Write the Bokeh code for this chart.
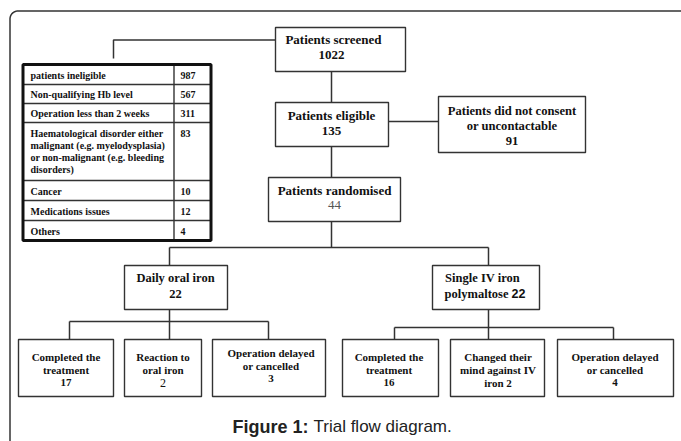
import numpy as np
from bokeh.plotting import figure
from bokeh.models import Range1d, ColumnDataSource
from bokeh.core.properties import value
from bokeh.embed import file_html
from bokeh.resources import INLINE

# ---------------- data ----------------
screened_n = 1022
eligible_n = 135
no_consent_n = 91
randomised_n = 44
oral_n = 22
iv_n = 22
oral_outcome_counts = [17, 2, 3]
iv_outcome_counts = [16, 2, 4]
ineligible_reasons = [
    "patients ineligible",
    "Non-qualifying Hb level",
    "Operation less than 2 weeks",
    "Haematological disorder either|malignant (e.g. myelodysplasia)|or non-malignant (e.g. bleeding|disorders)",
    "Cancer",
    "Medications issues",
    "Others",
]
ineligible_counts = [987, 567, 311, 83, 10, 12, 4]
caption_bold = "Figure 1:"
caption_text = "Trial flow diagram."

# ---------------- layout ----------------
SERIF = value("Liberation Serif")
SANS = value("Liberation Sans")
LINE = "#333333"
TXT = "#111111"

p = figure(width=681, height=441, x_range=Range1d(0, 681), y_range=Range1d(441, 0),
           output_backend="svg", toolbar_location=None, min_border=0,
           x_axis_location=None, y_axis_location=None)
p.xgrid.visible = False
p.ygrid.visible = False
p.outline_line_color = None
p.background_fill_color = "white"
p.border_fill_color = "white"

# outer frame with rounded top-left corner
t = np.linspace(0, np.pi / 2, 20)
fx = [9.5, 9.5] + list(17.5 - 8 * np.cos(t)) + [690]
fy = [450, 18.5] + list(18.5 - 8 * np.sin(t)) + [10.5]
p.line(fx, fy, line_color=LINE, line_width=1.5)

# connectors
seg_x = [
    [113, 113, 275], [331, 331], [331, 331], [331, 331], [388, 438],
    [169, 488], [169, 169], [488, 488],
    [169, 169], [69, 268], [69, 69], [169, 169], [268, 268],
    [488, 488], [394, 613], [394, 394], [488, 488], [613, 613],
]
seg_y = [
    [58, 39.5, 39.5], [71, 102], [146, 177], [221, 247], [121, 121],
    [247, 247], [247, 265], [247, 265],
    [309, 321], [321, 321], [321, 339], [321, 339], [321, 339],
    [309, 327], [327, 327], [327, 339], [327, 339], [327, 339],
]
p.multi_line(seg_x, seg_y, line_color=LINE, line_width=1.5)

# boxes (left, top, right, bottom)
boxes = [
    (275, 27, 405, 71),     # screened
    (275, 102, 388, 146),   # eligible
    (438, 96, 585, 152),    # no consent
    (268, 177, 400, 221),   # randomised
    (124, 265, 227, 309),   # oral
    (432, 265, 539, 309),   # iv
    (18, 339, 113, 396), (124, 339, 201, 396), (212, 339, 325, 396),
    (342, 339, 438, 396), (450, 339, 544, 396), (557, 339, 673, 396),
]
bsrc = ColumnDataSource(dict(
    left=[b[0] for b in boxes], top=[b[1] for b in boxes],
    right=[b[2] for b in boxes], bottom=[b[3] for b in boxes]))
p.quad(left="left", right="right", top="top", bottom="bottom", source=bsrc,
       fill_color="white", line_color=LINE, line_width=1.4)

# text helper
texts = []
def T(x, y, s, size, font=SERIF, style="bold", color=TXT, align="center"):
    texts.append((x, y, s, size, font, style, color, align))

T(333, 39, "Patients screened", "13px")
T(331, 54, f"{screened_n}", "13px")
T(331, 115, "Patients eligible", "13px")
T(331, 130, f"{eligible_n}", "13px")
T(511.5, 110, "Patients did not consent", "12.6px")
T(511.5, 125, "or uncontactable", "12.6px")
T(511.5, 140, f"{no_consent_n}", "12.6px")
T(334, 190, "Patients randomised", "13px")
T(334, 204, f"{randomised_n}", "13px", style="normal", color="#555555")
T(175, 277, "Daily oral iron", "12.5px")
T(175, 293, f"{oral_n}", "12.5px")
T(482, 277, "Single IV iron", "12.5px")
T(508, 293, "polymaltose", "12.5px", align="right")
T(511, 293, f"{iv_n}", "12.5px", font=SANS, align="left")

# oral outcomes
T(65.5, 356, "Completed the", "11px")
T(65.5, 369, "treatment", "11px")
T(65.5, 382, f"{oral_outcome_counts[0]}", "11px")
T(162.5, 356, "Reaction to", "11px")
T(162.5, 369, "oral iron", "11px")
T(162.5, 382, f"{oral_outcome_counts[1]}", "12px", style="normal")
T(270.5, 352, "Operation delayed", "11px")
T(270.5, 365, "or cancelled", "11px")
T(270.5, 378, f"{oral_outcome_counts[2]}", "11px")
# iv outcomes
T(388.5, 356, "Completed the", "11px")
T(388.5, 369, "treatment", "11px")
T(388.5, 382, f"{iv_outcome_counts[0]}", "11px")
T(497.5, 356, "Changed their", "11px")
T(497.5, 369, "mind against IV", "11px")
T(497.5, 382, f"iron {iv_outcome_counts[1]}", "11px")
T(614.5, 356, "Operation delayed", "11px")
T(614.5, 369, "or cancelled", "11px")
T(614.5, 382, f"{iv_outcome_counts[2]}", "11px")

# ineligible table
row_edges = [64, 84, 103, 122, 180, 200, 220, 240]
tl, tr, tdiv = 22.5, 210.5, 173.5
p.multi_line([[tl, tr] for e in row_edges[1:-1]] + [[tdiv, tdiv]],
             [[e, e] for e in row_edges[1:-1]] + [[row_edges[0], row_edges[-1]]],
             line_color=LINE, line_width=1.4)
p.quad(left=[tl], right=[tr], top=[row_edges[0]], bottom=[row_edges[-1]],
       fill_color=None, line_color="#111111", line_width=3)
for i, (reason, cnt) in enumerate(zip(ineligible_reasons, ineligible_counts)):
    top, bot = row_edges[i], row_edges[i + 1]
    parts = reason.split("|")
    if len(parts) == 1:
        y0 = (top + bot) / 2 + 0.5
    else:
        y0 = top + 10.5
    for j, part in enumerate(parts):
        T(30, y0 + j * 12.3, part, "10px", align="left")
    T(180, y0, f"{cnt}", "10px", align="left")

# caption
T(232, 426, caption_bold, "18px", font=SANS, align="left", color="#222222")
T(313, 426, caption_text, "17px", font=SANS, style="normal", align="left", color="#222222")

for (x, y, s, size, font, style, color, align) in texts:
    p.text(x=[x], y=[y], text=[s], text_font=font, text_font_style=style,
           text_font_size=size, text_color=color, text_align=align,
           text_baseline="middle")

open("out.html", "w").write(file_html(p, INLINE))
